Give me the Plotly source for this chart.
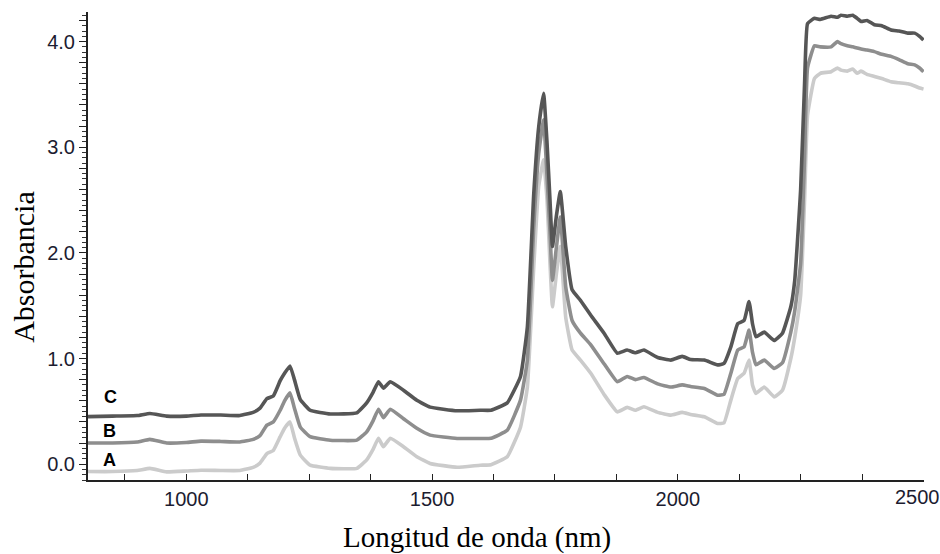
import plotly.graph_objects as go

# ---- data ----
wavelength = [800, 850, 900, 926, 960, 1000, 1030, 1070, 1109, 1136, 1150, 1164, 1177, 1191, 1200,
              1211, 1220, 1232, 1252, 1293, 1347, 1367, 1380, 1391, 1401, 1415, 1442, 1469, 1496,
              1551, 1598, 1620, 1653, 1680, 1694, 1707, 1717, 1727, 1734, 1740, 1745, 1753, 1761,
              1772, 1785, 1802, 1823, 1850, 1877, 1897, 1914, 1931, 1959, 1986, 2009, 2026, 2054,
              2081, 2094, 2108, 2122, 2135, 2145, 2152, 2159, 2176, 2196, 2213, 2230, 2238, 2250,
              2258, 2264, 2278, 2290, 2312, 2325, 2332, 2345, 2356, 2365, 2373, 2385, 2400, 2415,
              2434, 2450, 2468, 2482, 2492, 2500]

absorb_C = [0.45, 0.455, 0.46, 0.48, 0.455, 0.455, 0.465, 0.465, 0.46, 0.49, 0.53, 0.62, 0.645, 0.79, 0.86,
            0.93, 0.80, 0.61, 0.51, 0.475, 0.485, 0.58, 0.68, 0.78, 0.72, 0.78, 0.70, 0.605, 0.54,
            0.505, 0.51, 0.51, 0.58, 0.83, 1.30, 2.56, 3.19, 3.51, 3.04, 2.50, 2.06, 2.35, 2.58,
            2.06, 1.65, 1.55, 1.41, 1.24, 1.05, 1.08, 1.054, 1.08, 1.01, 0.985, 1.02, 0.99, 0.985,
            0.94, 0.953, 1.11, 1.33, 1.36, 1.54, 1.33, 1.205, 1.25, 1.17, 1.24, 1.49, 1.74, 2.60,
            3.60, 4.17, 4.22, 4.21, 4.24, 4.23, 4.25, 4.24, 4.25, 4.22, 4.19, 4.20, 4.16, 4.15,
            4.11, 4.10, 4.08, 4.08, 4.05, 4.015]

absorb_B = [0.20, 0.20, 0.21, 0.235, 0.20, 0.205, 0.218, 0.215, 0.21, 0.235, 0.27, 0.37, 0.40, 0.51, 0.60,
            0.675, 0.53, 0.35, 0.26, 0.227, 0.227, 0.306, 0.41, 0.52, 0.44, 0.52, 0.43, 0.34, 0.275,
            0.243, 0.243, 0.245, 0.32, 0.606, 0.985, 2.25, 2.94, 3.26, 2.72, 2.20, 1.74, 2.05, 2.34,
            1.68, 1.36, 1.24, 1.13, 0.95, 0.78, 0.83, 0.80, 0.82, 0.76, 0.73, 0.75, 0.735, 0.717,
            0.653, 0.66, 0.86, 1.08, 1.11, 1.27, 1.06, 0.94, 0.985, 0.906, 0.96, 1.25, 1.45, 1.90,
            2.90, 3.75, 3.96, 3.95, 3.95, 4.00, 3.98, 3.96, 3.95, 3.94, 3.93, 3.92, 3.905, 3.88,
            3.86, 3.83, 3.79, 3.78, 3.75, 3.715]

absorb_A = [-0.07, -0.07, -0.06, -0.04, -0.073, -0.065, -0.057, -0.06, -0.06, -0.03, 0.01, 0.10, 0.13, 0.26, 0.34,
            0.40, 0.25, 0.085, -0.01, -0.04, -0.04, 0.04, 0.14, 0.245, 0.165, 0.245, 0.165, 0.07, 0.007,
            -0.03, -0.01, -0.005, 0.07, 0.35, 0.73, 1.87, 2.63, 2.88, 2.50, 1.90, 1.49, 1.80, 2.06,
            1.39, 1.08, 0.985, 0.86, 0.66, 0.495, 0.537, 0.51, 0.543, 0.49, 0.464, 0.49, 0.47, 0.448,
            0.385, 0.39, 0.606, 0.81, 0.86, 0.985, 0.75, 0.67, 0.73, 0.637, 0.70, 1.00, 1.20, 1.60,
            2.50, 3.30, 3.65, 3.70, 3.715, 3.75, 3.73, 3.72, 3.74, 3.70, 3.72, 3.69, 3.67, 3.65,
            3.62, 3.61, 3.60, 3.58, 3.56, 3.55]

series_names = ["A", "B", "C"]
series_values = [absorb_A, absorb_B, absorb_C]
series_colors = ["#cbcbcb", "#8e8e8e", "#565656"]
label_positions = [(843, 0.04), (843, 0.315), (845, 0.635)]

y_tickvals = [round(i * 0.2, 1) for i in range(22)]
y_ticktext = [f"{v:.1f}" if abs(v - round(v)) < 1e-9 else "" for v in y_tickvals]
x_tickvals = [875 + 125 * i for i in range(14)]
x_ticktext = [str(v) if (v % 500 == 0 and v < 2500) else "" for v in x_tickvals]
last_x_label = 2500

x_range = [800, 2501]
y_range = [-0.15, 4.28]
tick_font = dict(family="Liberation Sans, Arial", size=20, color="#1c1c30")

fig = go.Figure()
for name, vals, col in zip(series_names, series_values, series_colors):
    fig.add_trace(go.Scatter(x=wavelength, y=vals, mode="lines", name=name,
                             line=dict(color=col, width=3.6, shape="spline", smoothing=0.35),
                             showlegend=False, hoverinfo="skip"))

# helper trace so the overlay axis (labelled y ticks) is drawn
fig.add_trace(go.Scatter(x=[wavelength[0], wavelength[1]], y=[absorb_C[0], absorb_C[1]],
                         mode="lines", yaxis="y2", showlegend=False, hoverinfo="skip",
                         line=dict(width=0, color="rgba(0,0,0,0)")))

for name, (lx, ly) in zip(series_names, label_positions):
    fig.add_annotation(x=lx, y=ly, text=f"<b>{name}</b>", showarrow=False,
                       font=dict(family="Liberation Sans, Arial", size=18, color="#000000"),
                       xanchor="center", yanchor="middle")

# last x tick label, nudged left so it stays inside the figure as in the original
fig.add_annotation(x=last_x_label, xref="x", yref="paper", y=-0.037, text=str(last_x_label),
                   showarrow=False, xanchor="center", yanchor="middle", xshift=-6, font=tick_font)

fig.add_annotation(xref="paper", yref="paper", x=-0.078, y=0.455, text="Absorbancia",
                   textangle=-90, showarrow=False, xanchor="center", yanchor="middle",
                   font=dict(family="Liberation Serif, Times New Roman", size=30, color="#000000"))
fig.add_annotation(xref="paper", yref="paper", x=0.465, y=-0.122, text="Longitud de onda (nm)",
                   showarrow=False, xanchor="center", yanchor="middle",
                   font=dict(family="Liberation Serif, Times New Roman", size=29, color="#000000"))

fig.update_layout(
    width=940, height=554,
    margin=dict(l=88, r=16, t=12, b=74),
    paper_bgcolor="white", plot_bgcolor="white",
    xaxis=dict(range=x_range, showgrid=False, zeroline=False,
               showline=True, linecolor="#222222", linewidth=1.5,
               tickmode="array", tickvals=x_tickvals, ticktext=x_ticktext,
               ticks="inside", ticklen=6, tickwidth=1.3, tickcolor="#222222",
               tickfont=tick_font),
    # main y axis: fine (minor) ticks only
    yaxis=dict(range=y_range, showgrid=False, zeroline=False,
               showline=True, linecolor="#222222", linewidth=1.5,
               tickmode="linear", tick0=0, dtick=0.05, showticklabels=False,
               ticks="outside", ticklen=4, tickwidth=1, tickcolor="#333333"),
    # overlay y axis: longer ticks every 0.2, labels at integers
    yaxis2=dict(range=y_range, overlaying="y", side="left", anchor="x", showgrid=False,
                zeroline=False, showline=False,
                tickmode="array", tickvals=y_tickvals, ticktext=y_ticktext,
                ticks="outside", ticklen=8, tickwidth=1.2, tickcolor="#222222",
                tickfont=tick_font),
)

fig.write_html("out.html")
